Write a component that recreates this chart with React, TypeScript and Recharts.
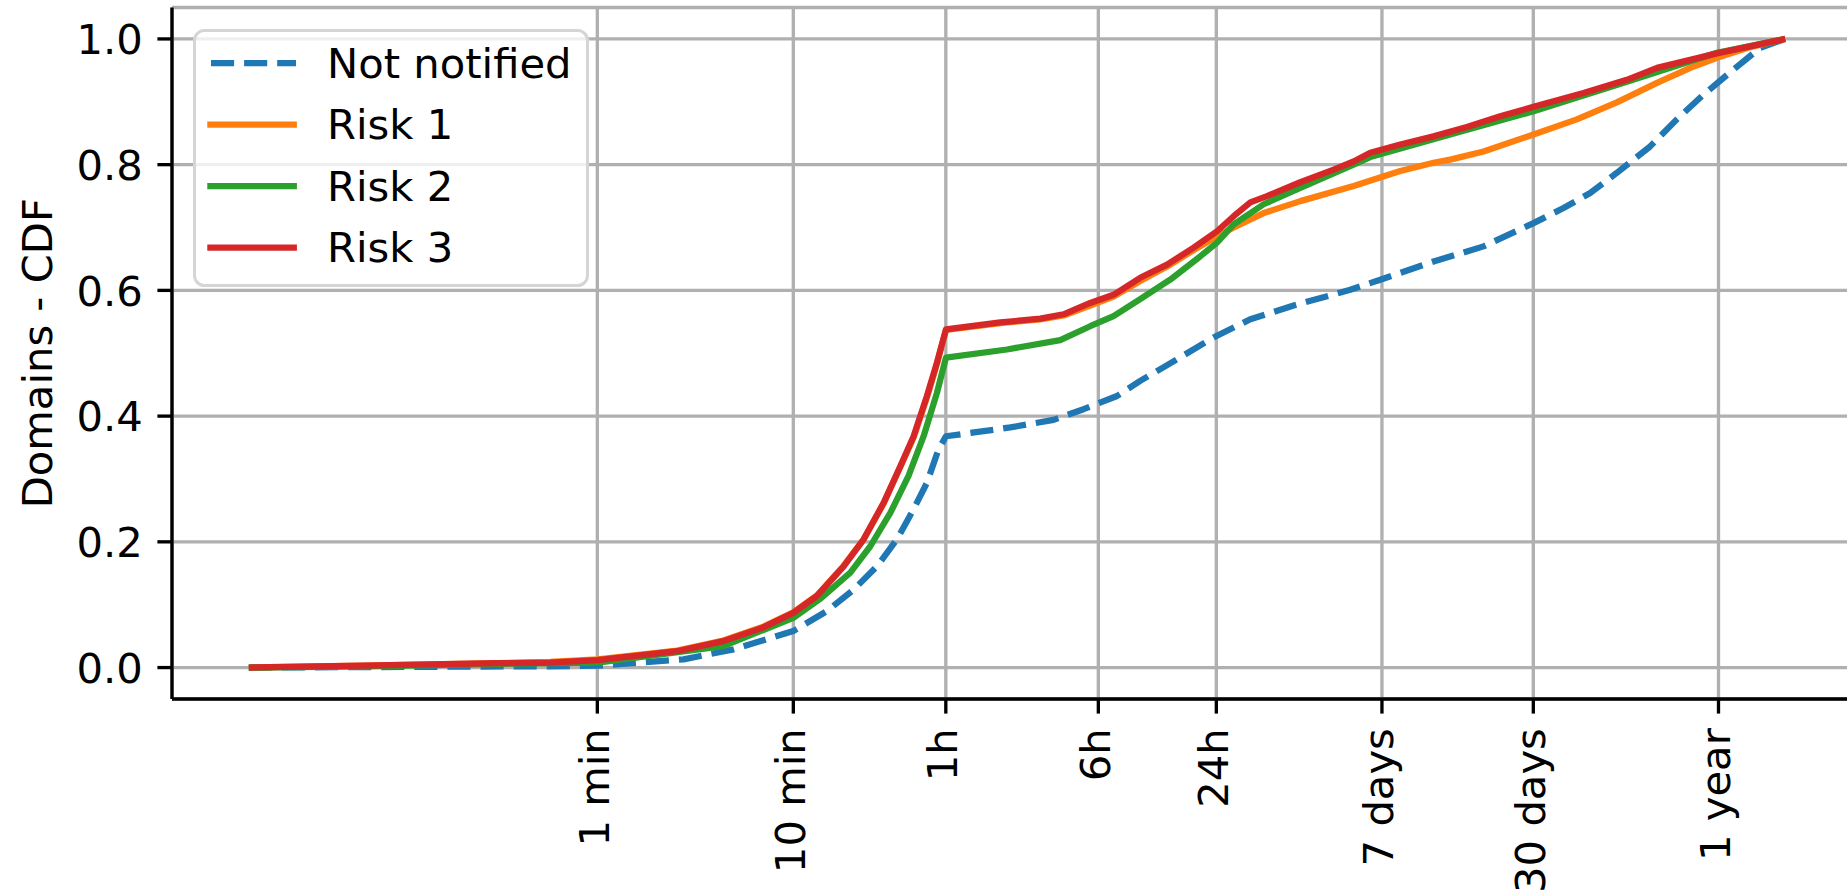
import React from 'react';
import { LineChart, Line, XAxis, YAxis, CartesianGrid } from 'recharts';

// x values are log10(seconds)
const notNotifiedX = [0, 0.8, 1.5, 1.78, 2.218, 2.473, 2.778, 2.95, 3.086, 3.205, 3.307, 3.392, 3.46, 3.519, 3.557, 3.749, 3.885, 4.106, 4.259, 4.43, 4.548, 4.718, 4.922, 5.11, 5.331, 5.62, 5.773, 6.045, 6.3, 6.555, 6.708, 6.844, 6.98, 7.15, 7.286, 7.421, 7.574, 7.712, 7.839];
const notNotifiedY = [0, 0.001, 0.002, 0.003, 0.013, 0.029, 0.058, 0.09, 0.124, 0.161, 0.204, 0.252, 0.294, 0.347, 0.368, 0.376, 0.382, 0.394, 0.411, 0.432, 0.456, 0.487, 0.525, 0.554, 0.576, 0.601, 0.617, 0.646, 0.67, 0.707, 0.731, 0.755, 0.787, 0.829, 0.872, 0.911, 0.951, 0.986, 1.0];

const risk1X = [0, 0.585, 1.268, 1.538, 1.78, 2.185, 2.421, 2.625, 2.778, 2.899, 3.035, 3.137, 3.239, 3.324, 3.392, 3.46, 3.511, 3.557, 3.834, 4.038, 4.157, 4.293, 4.412, 4.548, 4.685, 4.821, 4.94, 5.025, 5.178, 5.365, 5.637, 5.875, 6.045, 6.13, 6.3, 6.555, 6.776, 6.98, 7.185, 7.355, 7.491, 7.661, 7.839];
const risk1Y = [0, 0.003, 0.007, 0.009, 0.013, 0.027, 0.043, 0.065, 0.088, 0.115, 0.162, 0.204, 0.261, 0.319, 0.366, 0.43, 0.483, 0.537, 0.548, 0.554, 0.56, 0.576, 0.59, 0.615, 0.638, 0.664, 0.686, 0.7, 0.723, 0.742, 0.766, 0.79, 0.803, 0.808, 0.821, 0.848, 0.872, 0.899, 0.93, 0.954, 0.97, 0.987, 1.0];

const risk2X = [0, 0.585, 1.268, 1.78, 2.421, 2.778, 2.914, 3.069, 3.171, 3.273, 3.366, 3.443, 3.511, 3.557, 3.868, 4.14, 4.293, 4.412, 4.548, 4.701, 4.854, 4.94, 5.025, 5.178, 5.365, 5.637, 5.722, 6.13, 6.555, 7.031, 7.491, 7.839];
const risk2Y = [0, 0.002, 0.006, 0.008, 0.034, 0.079, 0.109, 0.151, 0.193, 0.246, 0.305, 0.368, 0.437, 0.493, 0.506, 0.521, 0.543, 0.559, 0.586, 0.617, 0.654, 0.676, 0.705, 0.737, 0.763, 0.8, 0.812, 0.848, 0.885, 0.932, 0.978, 1.0];

const risk3X = [0, 0.585, 1.268, 1.538, 1.78, 2.185, 2.421, 2.625, 2.778, 2.899, 3.035, 3.137, 3.239, 3.324, 3.392, 3.46, 3.511, 3.557, 3.834, 4.038, 4.157, 4.293, 4.412, 4.548, 4.685, 4.821, 4.94, 5.025, 5.11, 5.195, 5.365, 5.535, 5.637, 5.722, 5.875, 6.045, 6.215, 6.385, 6.555, 6.81, 7.031, 7.185, 7.491, 7.839];
const risk3Y = [0, 0.003, 0.007, 0.008, 0.012, 0.026, 0.042, 0.064, 0.087, 0.114, 0.161, 0.204, 0.262, 0.32, 0.368, 0.432, 0.485, 0.538, 0.549, 0.555, 0.562, 0.58, 0.593, 0.62, 0.641, 0.668, 0.694, 0.718, 0.74, 0.75, 0.772, 0.792, 0.805, 0.819, 0.832, 0.845, 0.86, 0.877, 0.892, 0.914, 0.935, 0.954, 0.977, 1.0];

const seriesNames = ['Not notified', 'Risk 1', 'Risk 2', 'Risk 3'];
const seriesColors = ['#1f77b4', '#ff7f0e', '#2ca02c', '#d62728'];
const seriesDash = ['23.1 10', undefined, undefined, undefined];

const tickSeconds = [60, 600, 3600, 21600, 86400, 604800, 3580000, 31536000];
const tickLabels = ['1 min', '10 min', '1h', '6h', '24h', '7 days', '30 days', '1 year'];
const yTicks = [0, 0.2, 0.4, 0.6, 0.8, 1.0];
const yLabel = 'Domains - CDF';

const xDomain: [number, number] = [-0.392, 8.231];
const yDomain: [number, number] = [-0.05, 1.05];

const FONT = 'DejaVu Sans';
const FS = 41.7;
const LW = 6.25;
const SPINE = 3.33;

const zip = (xs: number[], ys: number[]) => xs.map((x, i) => ({ x, y: ys[i] }));
const seriesData = [
  zip(notNotifiedX, notNotifiedY),
  zip(risk1X, risk1Y),
  zip(risk2X, risk2Y),
  zip(risk3X, risk3Y),
];
const tickLogs = tickSeconds.map((s) => Math.log10(s));

const XTick = (props: any) => {
  const { x, y, payload } = props;
  let idx = 0;
  let best = Infinity;
  tickLogs.forEach((t, i) => {
    const d = Math.abs(t - payload.value);
    if (d < best) {
      best = d;
      idx = i;
    }
  });
  const bx = x + 11.5;
  return (
    <text
      x={bx}
      y={y}
      transform={`rotate(-90 ${bx} ${y})`}
      textAnchor="end"
      fontFamily={FONT}
      fontSize={FS}
      fill="#000"
    >
      {tickLabels[idx]}
    </text>
  );
};

const YTick = (props: any) => {
  const { x, y, payload } = props;
  return (
    <text x={x} y={y} dy={15.2} textAnchor="end" fontFamily={FONT} fontSize={FS} fill="#000">
      {Number(payload.value).toFixed(1)}
    </text>
  );
};

const YLabel = (props: any) => {
  const vb = props.viewBox || { x: 0, y: 7.5, width: 172, height: 691.5 };
  const cx = 52;
  const cy = vb.y + vb.height / 2;
  return (
    <text
      x={cx}
      y={cy}
      transform={`rotate(-90 ${cx} ${cy})`}
      textAnchor="middle"
      fontFamily={FONT}
      fontSize={FS}
      fill="#000"
    >
      {yLabel}
    </text>
  );
};

const LegendBox = () => {
  const rowY = [63, 124.5, 186, 247.7];
  return (
    <svg
      width={700}
      height={330}
      style={{ position: 'absolute', left: 0, top: 0, pointerEvents: 'none' }}
    >
      <rect
        x={194.5}
        y={30.5}
        width={393}
        height={255}
        rx={10}
        ry={10}
        fill="rgba(255,255,255,0.8)"
        stroke="#d5d5d5"
        strokeWidth={3}
      />
      {seriesNames.map((name, i) => (
        <g key={name}>
          <line
            x1={seriesDash[i] ? 211 : 210.4}
            y1={rowY[i]}
            x2={seriesDash[i] ? 296 : 293.8}
            y2={rowY[i]}
            stroke={seriesColors[i]}
            strokeWidth={LW}
            strokeDasharray={seriesDash[i]}
            strokeLinecap={seriesDash[i] ? 'butt' : 'square'}
          />
          <text
            x={327}
            y={rowY[i]}
            dominantBaseline="central"
            fontFamily={FONT}
            fontSize={FS}
            fill="#000"
          >
            {name}
          </text>
        </g>
      ))}
    </svg>
  );
};

export default function App() {
  return (
    <div
      style={{
        position: 'fixed',
        left: 0,
        top: 0,
        width: 1847,
        height: 890,
        overflow: 'hidden',
        background: '#fff',
      }}
    >
      <LineChart
        width={1870}
        height={890}
        margin={{ top: 7.5, right: 8, bottom: 0, left: 0 }}
        style={{ fontFamily: FONT }}
      >
        <CartesianGrid stroke="#b0b0b0" strokeWidth={SPINE} />
        <XAxis
          xAxisId="top"
          orientation="top"
          type="number"
          domain={xDomain}
          allowDataOverflow
          height={0}
          tick={false}
          tickLine={false}
          axisLine={{ stroke: '#000', strokeWidth: SPINE }}
        />
        <XAxis
          type="number"
          dataKey="x"
          domain={xDomain}
          allowDataOverflow
          ticks={tickLogs}
          interval={0}
          height={191}
          tickSize={14.6}
          tickMargin={14.6}
          tick={<XTick />}
          tickLine={{ stroke: '#000', strokeWidth: SPINE }}
          axisLine={{ stroke: '#000', strokeWidth: SPINE }}
        />
        <YAxis
          type="number"
          dataKey="y"
          domain={yDomain}
          allowDataOverflow
          ticks={yTicks}
          interval={0}
          width={172}
          tickSize={14.6}
          tickMargin={14.6}
          tick={<YTick />}
          tickLine={{ stroke: '#000', strokeWidth: SPINE }}
          axisLine={{ stroke: '#000', strokeWidth: SPINE }}
          label={{ value: yLabel, content: <YLabel /> }}
        />
        {seriesData.map((d, i) => (
          <Line
            key={seriesNames[i]}
            data={d}
            dataKey="y"
            type="linear"
            name={seriesNames[i]}
            stroke={seriesColors[i]}
            strokeWidth={LW}
            strokeDasharray={seriesDash[i]}
            strokeLinejoin="round"
            dot={false}
            activeDot={false}
            isAnimationActive={false}
          />
        ))}
      </LineChart>
      <LegendBox />
    </div>
  );
}
